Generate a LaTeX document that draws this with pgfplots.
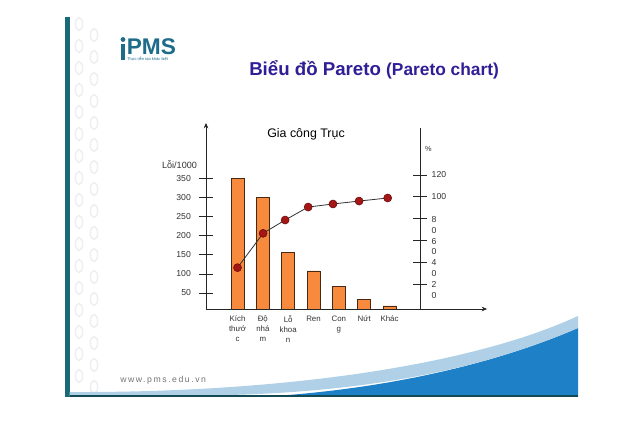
\documentclass[border=0pt]{standalone}
\usepackage{fontspec}
\setmainfont{Liberation Sans}
\newfontfamily\wwwfont[LetterSpace=18]{Liberation Sans}
\usepackage{pgfplots}
\pgfplotsset{compat=1.18}
\usetikzlibrary{arrows.meta}

\definecolor{titleblue}{RGB}{48,30,150}
\definecolor{tealbar}{RGB}{25,105,118}
\definecolor{logoteal}{RGB}{28,108,138}
\definecolor{barorange}{RGB}{247,138,60}
\definecolor{baredge}{RGB}{70,40,20}
\definecolor{dotred}{RGB}{165,22,22}
\definecolor{dotedge}{RGB}{105,10,10}
\definecolor{swoosh}{RGB}{30,128,198}
\definecolor{swooshlight}{RGB}{175,208,230}
\definecolor{patgray}{RGB}{236,238,241}

% two-line tick label, first line centred on the tick
\newcommand\stk[2]{\raisebox{0pt}[\height][0pt]{\begin{tabular}[t]{@{}l@{}}#1\\#2\end{tabular}}}

\begin{document}
\begin{tikzpicture}
\begin{scope}[x=0.75pt,y=-0.75pt]
  \path[use as bounding box, fill=white] (0,0) rectangle (640,423);
  % slide decoration
  \fill[tealbar] (65,17) rectangle (69.5,397);
  \foreach \yy in {24,46,...,390} {
    \draw[patgray, line width=1pt] (79,\yy) ellipse (3.6 and 6.5);
    \draw[patgray, line width=1pt] (94,\yy+11) ellipse (3.6 and 6.5);
  }
  \fill[swoosh] (260,397) .. controls (380,390) and (490,366) .. (578,328) -- (578,397) -- cycle;
  \fill[swooshlight] (69.5,392) .. controls (280,393) and (470,366) .. (578,316)
     -- (578,328) .. controls (490,366) and (380,391) .. (230,395) -- (69.5,396) -- cycle;
  \fill[tealbar!70!black] (69.5,395.5) rectangle (578,397.5);
  % logo
  \fill[logoteal] (123,39.5) circle (2.4);
  \fill[logoteal] (121,44) rectangle (125,60);
  \node[anchor=base west, inner sep=0, text=logoteal] at (126.5,55)
    {\fontsize{17}{17}\selectfont\bfseries PMS};
  \node[anchor=base west, inner sep=0, text=logoteal] at (127,61)
    {\fontsize{3}{3}\selectfont Thực tiễn tạo khác biệt};
  \node[anchor=base west, inner sep=0, text=black!55] at (120,383)
    {\wwwfont\fontsize{6.5}{7}\selectfont www.pms.edu.vn};
  % slide title
  \node[anchor=base west, inner sep=0, text=titleblue] at (249,76)
    {\fontsize{14}{16}\selectfont\bfseries Biểu đồ Pareto \fontsize{13}{14}\selectfont(Pareto chart)};
\end{scope}

% defects per 1000 (bars)
\begin{axis}[
  at={(154.5pt,-231.75pt)}, anchor=south west,
  scale only axis, width=210.75pt, height=139.5pt,
  xmin=-1.244, xmax=9.85, ymin=8, ymax=496,
  axis x line=bottom, axis y line=left,
  axis line style={line width=0.6pt, draw=black!85, -{Stealth[length=4pt,width=3.5pt]}},
  xtick={0,...,6},
  xticklabels={{Kích\\thướ\\c},{Độ\\nhá\\m},{Lỗ\\khoa\\n},Ren,{Con\\g},Nứt,Khác},
  xtick style={draw=none},
  xticklabel style={font=\fontsize{5.9}{7.5}\selectfont, align=center, text=black!80, yshift=3.8pt},
  ytick={50,100,...,350},
  tick align=center, major tick length=11pt,
  ytick style={line width=0.6pt, draw=black!85},
  yticklabel style={font=\fontsize{6.5}{7}\selectfont, text=black!80, xshift=-2.3pt},
  /pgf/number format/assume math mode=true,
]
\addplot[ybar, bar width=0.51, fill=barorange, draw=baredge, line width=0.5pt]
  coordinates {(0,350) (1,300) (2,157) (3,108) (4,67) (5,33) (6,16)};
\end{axis}

% cumulative percentage (line)
\begin{axis}[
  at={(154.5pt,-231.75pt)}, anchor=south west,
  scale only axis, width=160.5pt, height=135.75pt,
  xmin=-1.244, xmax=7.205, ymin=-2.9, ymax=163.1,
  axis x line=none, axis y line=right,
  axis line style={line width=0.6pt, draw=black!85, -},
  ytick={20,40,...,120},
  yticklabels={{\stk{2}{0}},{\stk{4}{0}},{\stk{6}{0}},{\stk{8}{0}},100,120},
  tick align=center, major tick length=10.5pt,
  ytick style={line width=0.6pt, draw=black!85},
  yticklabel style={font=\fontsize{6.5}{8}\selectfont, anchor=west, text=black!80},
]
\addplot[black!80, line width=0.6pt, mark=*, mark size=3pt,
  mark options={fill=dotred, draw=dotedge, line width=0.4pt}]
  coordinates {(0,35.0) (1.01,66.5) (1.88,78.7) (2.79,90.6) (3.77,93.4) (4.8,96.1) (5.93,98.9)};
\end{axis}

\begin{scope}[x=0.75pt,y=-0.75pt]
  \node[anchor=base, inner sep=0] at (306,137.5) {\fontsize{9.3}{11}\selectfont Gia công Trục};
  \node[anchor=base, inner sep=0, text=black!80] at (179.5,168.5) {\fontsize{6.8}{8}\selectfont Lỗi/1000};
  \node[anchor=base, inner sep=0, text=black!80] at (428.5,151.5) {\fontsize{5.5}{6}\selectfont\%};
\end{scope}
\end{tikzpicture}
\end{document}
